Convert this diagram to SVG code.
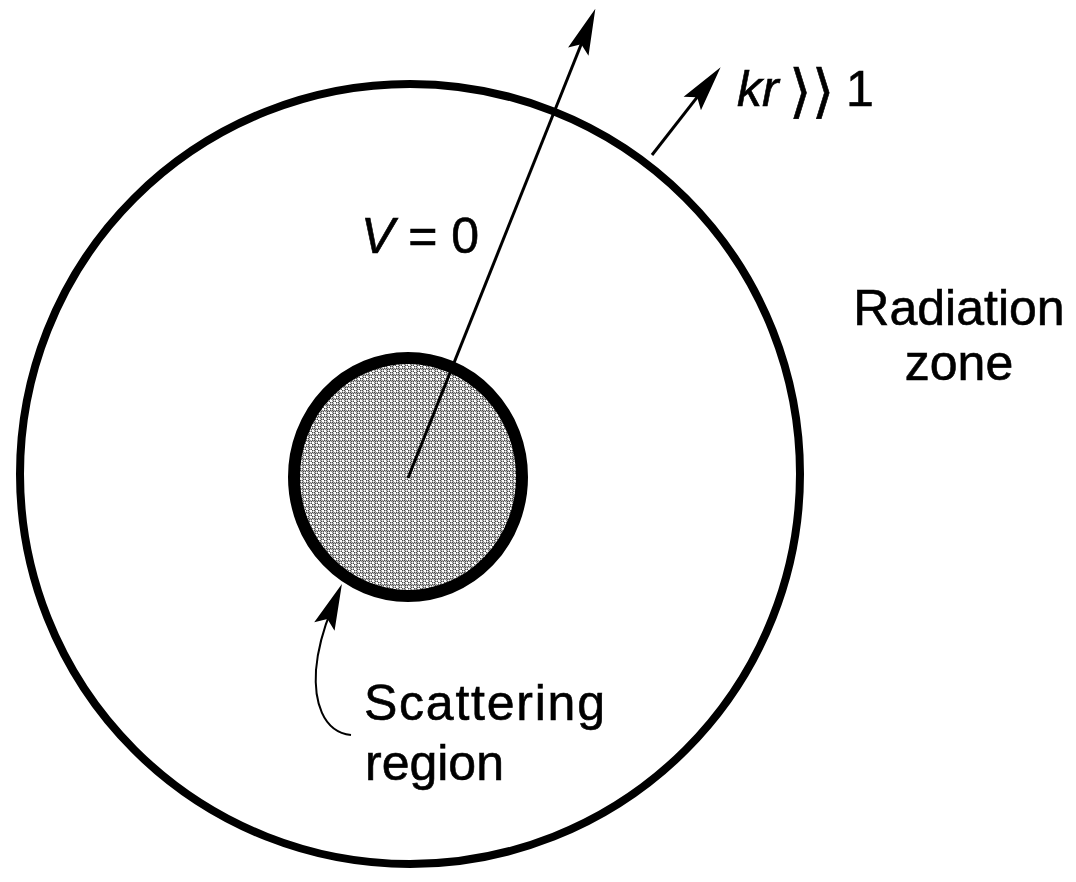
<svg xmlns="http://www.w3.org/2000/svg" width="1076" height="882" viewBox="0 0 1076 882">
<style>
  .lbl { font-family: "Liberation Sans", Arial, sans-serif; font-size: 50px; fill: #000; stroke: #000; stroke-width: 0.6px; }
  .it { font-style: italic; }
  .line { fill: none; stroke: #000; }
  .brk { font-family: "DejaVu Sans", sans-serif; font-size: 58px; fill: #000; stroke: #000; stroke-width: 0.6px; }
</style>
<defs>
  <marker id="ah" viewBox="-22 -13 49 26" refX="0" refY="0" markerWidth="49" markerHeight="26" markerUnits="userSpaceOnUse" orient="auto">
    <path d="M26,0 L-20,-11 L-12,0 L-20,11 Z" fill="#000"/>
  </marker>
  <pattern id="stip" width="6" height="6" patternUnits="userSpaceOnUse">
    <rect width="6" height="6" fill="#fff"/>
    <circle cx="1.5" cy="1.5" r="1.6" fill="none" stroke="#000" stroke-width="0.9"/>
    <circle cx="4.5" cy="4.5" r="1.6" fill="none" stroke="#000" stroke-width="0.9"/>
  </pattern>
</defs>
<rect width="1076" height="882" fill="#fff"/>
<g id="outer">
  <circle cx="410" cy="474" r="390" fill="none" stroke="#000" stroke-width="8"/>
</g>
<g id="scatter">
  <ellipse cx="408" cy="477" rx="114" ry="119" fill="url(#stip)" stroke="#000" stroke-width="12"/>
</g>
<g id="connectors">
  <line class="line" x1="408" y1="478" x2="585.7" y2="33" stroke-width="3" marker-end="url(#ah)"/>
  <line class="line" x1="652" y1="155" x2="704.6" y2="87.7" stroke-width="3" marker-end="url(#ah)"/>
  <path class="line" d="M351,735 C322,732 314,700 316,670 C318,645 325,625 332,608" stroke-width="2" marker-end="url(#ah)"/>
</g>
<g id="labels">
  <text class="lbl it" x="737" y="106">kr</text>
  <text class="brk" x="789" y="111">⟩⟩</text>
  <text class="lbl" x="846" y="106">1</text>
  <text class="lbl" x="361" y="253"><tspan class="it">V</tspan> = 0</text>
  <text class="lbl" x="959" y="325" text-anchor="middle">Radiation</text>
  <text class="lbl" x="959" y="380" text-anchor="middle">zone</text>
  <text class="lbl" x="364" y="720" textLength="241">Scattering</text>
  <text class="lbl" x="365" y="780">region</text>
</g>
</svg>
